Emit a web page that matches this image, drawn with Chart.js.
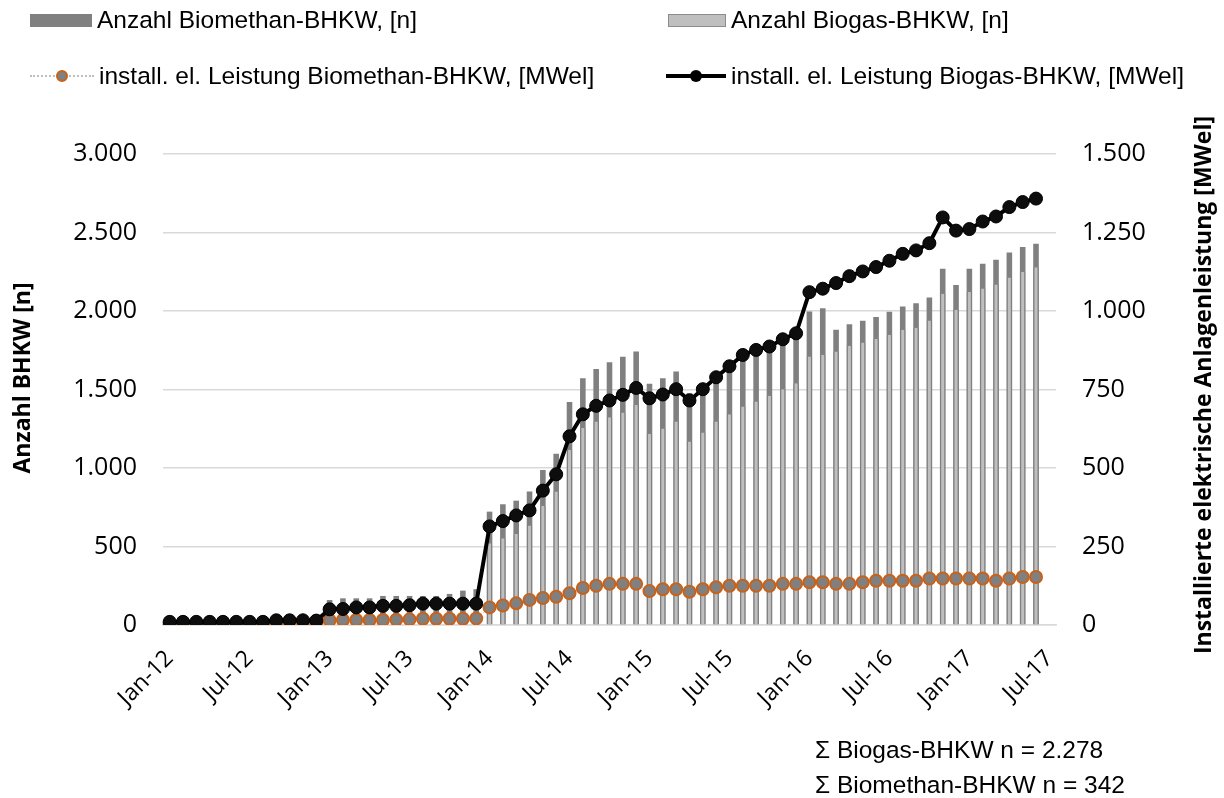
<!DOCTYPE html>
<html>
<head>
<meta charset="utf-8">
<script src="https://cdn.jsdelivr.net/npm/chart.js@4.4.1/dist/chart.umd.min.js"></script>
<style>
  body { margin: 0; width: 1224px; height: 798px; background: #fff; position: relative; overflow: hidden; }
  #wrap { position: absolute; left: 0; top: 0; width: 1224px; height: 798px; }
  .txt { position: absolute; height: 40px; display: flex; align-items: center; white-space: nowrap;
         font-family: "Liberation Sans", Arial, sans-serif; font-size: 24.5px; color: #000; }
  .sw { position: relative; margin-right: 5px; }
  .dark { width: 62px; height: 13px; background: #808080; }
  .light { width: 56px; height: 11px; background: #bfbfbf; border: 1px solid #8c8c8c; }
  .dotline { width: 64px; height: 14px; }
  .dotline::before { content: ""; position: absolute; left: 0; right: 0; top: 6px; border-top: 2px dotted #bfbfbf; }
  .dotline i { position: absolute; left: 26px; top: 1px; width: 8px; height: 8px; border-radius: 50%;
               background: #808080; border: 2px solid #c8621a; }
  .blkline { width: 60px; height: 14px; }
  .blkline::before { content: ""; position: absolute; left: 0; right: 0; top: 5px; height: 4px; background: #000; }
  .blkline i { position: absolute; left: 24px; top: 1px; width: 12px; height: 12px; border-radius: 50%; background: #000; }
</style>
</head>
<body>
<div id="wrap"><canvas id="chart" width="1224" height="798"></canvas></div>

<!-- legend -->
<div class="txt" style="left:30px; top:0px;"><span class="sw dark"></span>Anzahl Biomethan-BHKW, [n]</div>
<div class="txt" style="left:668px; top:0px;"><span class="sw light"></span>Anzahl Biogas-BHKW, [n]</div>
<div class="txt" style="left:30px; top:56px;"><span class="sw dotline"><i></i></span>install. el. Leistung Biomethan-BHKW, [MWel]</div>
<div class="txt" style="left:666px; top:56px;"><span class="sw blkline"><i></i></span>install. el. Leistung Biogas-BHKW, [MWel]</div>

<!-- notes -->
<div class="txt" style="left:815px; top:730px;">Σ Biogas-BHKW n = 2.278</div>
<div class="txt" style="left:815px; top:765px;">Σ Biomethan-BHKW n = 342</div>

<script>
// ========== DATA ==========
const monthAbbr = ["Jan", "Feb", "Mrz", "Apr", "Mai", "Jun", "Jul", "Aug", "Sep", "Okt", "Nov", "Dez"];
const years = ["12", "13", "14", "15", "16", "17"];
const months = [];
years.forEach((y) => monthAbbr.forEach((m) => months.push(m + "-" + y)));
months.length = 67; // Jan-12 .. Jul-17

// dark bars (Anzahl Biomethan-BHKW)
const biomethanCount = [
  0, 0, 0, 0, 0, 0, 0, 0, 0, 0, 0, 0,
  159, 170, 170, 170, 185, 185, 185, 185, 185, 198, 219, 228,
  722, 769, 792, 850, 988, 1090, 1420, 1572, 1630, 1673, 1708, 1742,
  1536, 1572, 1615, 1477, 1494, 1551, 1625, 1689, 1736, 1770, 1795, 1855,
  1997, 2018, 1880, 1915, 1938, 1961, 1995, 2029, 2050, 2086, 2269, 2165,
  2269, 2301, 2327, 2373, 2407, 2428, null
];
// light bars (Anzahl Biogas-BHKW)
const biogasCount = [
  0, 0, 0, 0, 0, 0, 0, 0, 0, 0, 0, 0,
  0, 0, 0, 0, 0, 0, 0, 0, 0, 0, 0, 0,
  521, 552, 580, 633, 758, 850, 1115, 1254, 1296, 1324, 1353, 1402,
  1217, 1252, 1296, 1168, 1226, 1296, 1343, 1392, 1424, 1460, 1502, 1540,
  1710, 1721, 1742, 1778, 1800, 1823, 1848, 1880, 1893, 1940, 2110, 2008,
  2121, 2144, 2169, 2214, 2248, 2278, null
];
// install. el. Leistung Biogas-BHKW [MWel]
const biogasPower = [
  10, 10, 10, 10, 10, 10, 10, 10, 15, 15, 15, 14,
  50, 51, 56, 56, 61, 61, 63, 68, 68, 68, 68, 68,
  314, 331, 349, 365, 428, 480, 601, 671, 698, 715, 733, 755,
  722, 734, 751, 715, 751, 789, 824, 860, 876, 887, 910, 929,
  1060, 1071, 1089, 1111, 1126, 1140, 1160, 1182, 1193, 1216, 1298, 1256,
  1261, 1285, 1301, 1331, 1347, 1358, null
];
// install. el. Leistung Biomethan-BHKW [MWel]
const biomethanPower = [
  5, 5, 5, 5, 5, 5, 5, 5, 5, 5, 5, 5,
  15, 16, 16, 16, 16, 17, 18, 20, 20, 20, 20, 21,
  56, 62, 69, 80, 86, 90, 101, 118, 125, 131, 131, 131,
  108, 114, 114, 106, 114, 120, 125, 125, 125, 125, 131, 131,
  136, 136, 131, 131, 136, 141, 141, 141, 141, 148, 148, 148,
  148, 148, 141, 148, 153, 153, null
];

const leftTicks = [0, 500, 1000, 1500, 2000, 2500, 3000];
const rightTicks = [0, 250, 500, 750, 1000, 1250, 1500];

// ========== HELPERS ==========
function fmt(v) {
  return String(v).replace(/\B(?=(\d{3})+(?!\d))/g, ".");
}

const axisTitles = {
  id: "axisTitles",
  afterDraw(chart) {
    const ctx = chart.ctx;
    ctx.save();
    ctx.font = 'bold 23px "Open Sans", "DejaVu Sans", sans-serif';
    ctx.fillStyle = "#000";
    ctx.textAlign = "center";
    ctx.textBaseline = "middle";
    [["Anzahl BHKW [n]", 23, 378], ["Installierte elektrische Anlagenleistung [MWel]", 1204, 385]].forEach((t) => {
      ctx.save();
      ctx.translate(t[1], t[2]);
      ctx.rotate(-Math.PI / 2);
      ctx.fillText(t[0], 0, 0);
      ctx.restore();
    });
    ctx.restore();
  },
};

// ========== CHART ==========
const tickFont = { family: '"Open Sans", "Liberation Sans", sans-serif', size: 25 };

new Chart(document.getElementById("chart"), {
  data: {
    labels: months,
    datasets: [
      {
        type: "line",
        label: "install. el. Leistung Biogas-BHKW, [MWel]",
        data: biogasPower,
        yAxisID: "y1",
        borderColor: "#000",
        borderWidth: 4,
        pointRadius: 6.5,
        pointBackgroundColor: "#0d0d0d",
        pointBorderColor: "#000",
        pointBorderWidth: 1,
        order: 0,
      },
      {
        type: "line",
        label: "install. el. Leistung Biomethan-BHKW, [MWel]",
        data: biomethanPower,
        yAxisID: "y1",
        borderColor: "#c0c0c0",
        borderWidth: 1,
        borderDash: [2, 2],
        pointRadius: 6,
        pointBackgroundColor: "#808080",
        pointBorderColor: "#c8621a",
        pointBorderWidth: 2,
        order: 1,
      },
      {
        type: "bar",
        label: "Anzahl Biogas-BHKW, [n]",
        data: biogasCount,
        yAxisID: "y",
        backgroundColor: "#bfbfbf",
        borderColor: "#808080",
        borderWidth: { left: 1.3, right: 1.3, top: 0, bottom: 0 },
        grouped: false,
        categoryPercentage: 1,
        barPercentage: 0.42,
        order: 2,
      },
      {
        type: "bar",
        label: "Anzahl Biomethan-BHKW, [n]",
        data: biomethanCount,
        yAxisID: "y",
        backgroundColor: "#808080",
        grouped: false,
        categoryPercentage: 1,
        barPercentage: 0.42,
        order: 3,
      },
    ],
  },
  options: {
    responsive: false,
    animation: false,
    layout: { padding: { top: 154, left: 0, right: 0, bottom: 0 } },
    plugins: { legend: { display: false }, tooltip: { enabled: false } },
    scales: {
      x: {
        offset: true,
        afterFit: (s) => { s.height = 173; },
        grid: { display: false },
        border: { display: true, color: "#d9d9d9", width: 1.5 },
        ticks: {
          autoSkip: false,
          maxRotation: 45,
          minRotation: 45,
          padding: 12,
          color: "#000",
          font: { family: '"Open Sans", "Liberation Sans", sans-serif', size: 23 },
          callback: (v, i) => (i % 6 === 0 ? months[i] : ""),
        },
      },
      y: {
        position: "left",
        min: leftTicks[0],
        max: leftTicks[leftTicks.length - 1],
        afterFit: (s) => { s.width = 163; },
        afterBuildTicks: (s) => { s.ticks = leftTicks.map((v) => ({ value: v })); },
        grid: { color: "#d9d9d9", lineWidth: 1.5, drawTicks: false },
        border: { display: false },
        ticks: { padding: 26, color: "#000", font: tickFont, callback: (v) => fmt(v) },
      },
      y1: {
        position: "right",
        min: rightTicks[0],
        max: rightTicks[rightTicks.length - 1],
        afterFit: (s) => { s.width = 168; },
        afterBuildTicks: (s) => { s.ticks = rightTicks.map((v) => ({ value: v })); },
        grid: { drawOnChartArea: false, drawTicks: false },
        border: { display: false },
        ticks: { padding: 26, color: "#000", font: tickFont, callback: (v) => fmt(v) },
      },
    },
  },
  plugins: [axisTitles],
});
</script>
</body>
</html>
